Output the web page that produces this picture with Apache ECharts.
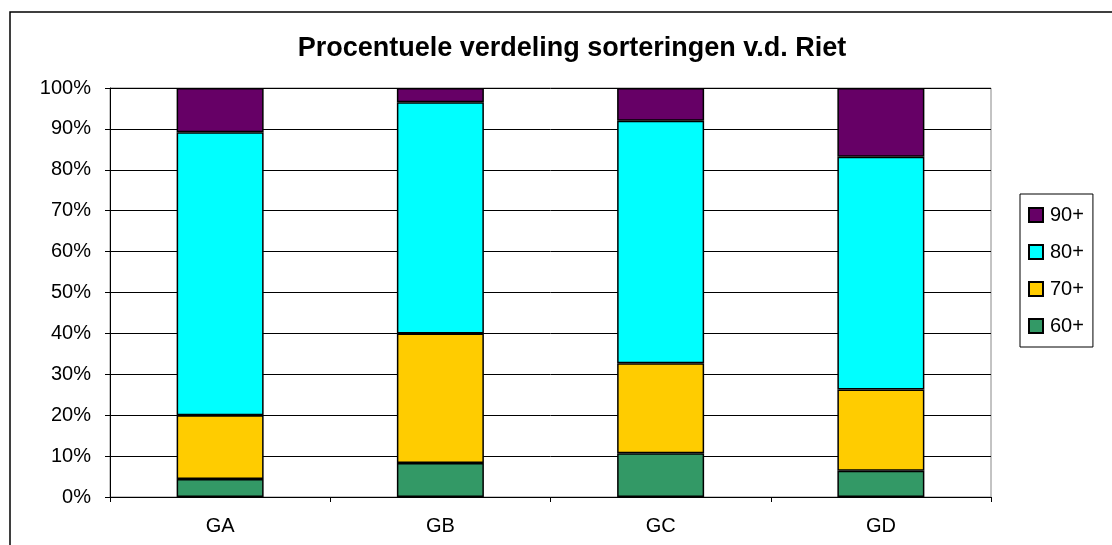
<!DOCTYPE html>
<html>
<head>
<meta charset="utf-8">
<script src="https://cdn.jsdelivr.net/npm/echarts@6/dist/echarts.min.js"></script>
<style>
html, body { margin: 0; padding: 0; background: #fff; }
#main { width: 1112px; height: 545px; }
</style>
</head>
<body>
<div id="main"></div>
<script>
var categories = ['GA', 'GB', 'GC', 'GD'];
var s60 = [4.4, 8.3, 10.7, 6.4];
var s70 = [15.6, 31.7, 22.0, 19.9];
var s80 = [69.2, 56.5, 59.3, 56.9];
var s90 = [10.8, 3.5, 8.0, 16.8];
var yTicks = ['0%', '10%', '20%', '30%', '40%', '50%', '60%', '70%', '80%', '90%', '100%'];

var font = 'Arial, "Liberation Sans", sans-serif';

function bar(name, data, color) {
    return {
        name: name,
        type: 'bar',
        stack: 'total',
        barWidth: 87,
        itemStyle: {
            color: color,
            borderColor: '#000',
            borderWidth: 1.5
        },
        emphasis: { disabled: true },
        data: data
    };
}

var option = {
    animation: false,
    title: {
        text: 'Procentuele verdeling sorteringen v.d. Riet',
        left: 567,
        textAlign: 'center',
        top: 30,
        textStyle: {
            fontFamily: font,
            fontSize: 27,
            fontWeight: 'bold',
            color: '#000'
        }
    },
    graphic: [{
        type: 'rect',
        shape: { x: 10, y: 12, width: 1200, height: 600 },
        style: { fill: 'none', stroke: '#000', lineWidth: 1.5 },
        z: -1
    }],
    legend: {
        orient: 'vertical',
        left: 1020,
        top: 194,
        padding: [11, 9, 11, 8],
        itemGap: 17,
        itemWidth: 14,
        itemHeight: 14,
        icon: 'rect',
        borderColor: '#000',
        borderWidth: 1,
        textStyle: { fontFamily: font, fontSize: 20, color: '#000', padding: [0, 0, 0, 2] },
        data: ['90+', '80+', '70+', '60+']
    },
    grid: {
        left: 110,
        right: 121,
        top: 88,
        bottom: 48,
        show: true,
        borderColor: '#888',
        borderWidth: 1
    },
    xAxis: {
        type: 'category',
        data: categories,
        axisLine: { lineStyle: { color: '#000', width: 1 } },
        axisTick: { show: true, length: 5, lineStyle: { color: '#000' } },
        axisLabel: { fontFamily: font, fontSize: 20, color: '#000', margin: 19 }
    },
    yAxis: {
        type: 'value',
        min: 0,
        max: 100,
        interval: 10,
        axisLine: { show: true, lineStyle: { color: '#000', width: 1 } },
        axisTick: { show: true, length: 5, lineStyle: { color: '#000' } },
        splitLine: { lineStyle: { color: '#000', width: 1 } },
        axisLabel: {
            fontFamily: font,
            fontSize: 20,
            color: '#000',
            margin: 19,
            formatter: function (v) { return yTicks[Math.round(v / 10)]; }
        }
    },
    series: [
        bar('60+', s60, '#339966'),
        bar('70+', s70, '#FFCC00'),
        bar('80+', s80, '#00FFFF'),
        bar('90+', s90, '#660066')
    ]
};

var chart = echarts.init(document.getElementById('main'));
chart.setOption(option);
</script>
</body>
</html>
